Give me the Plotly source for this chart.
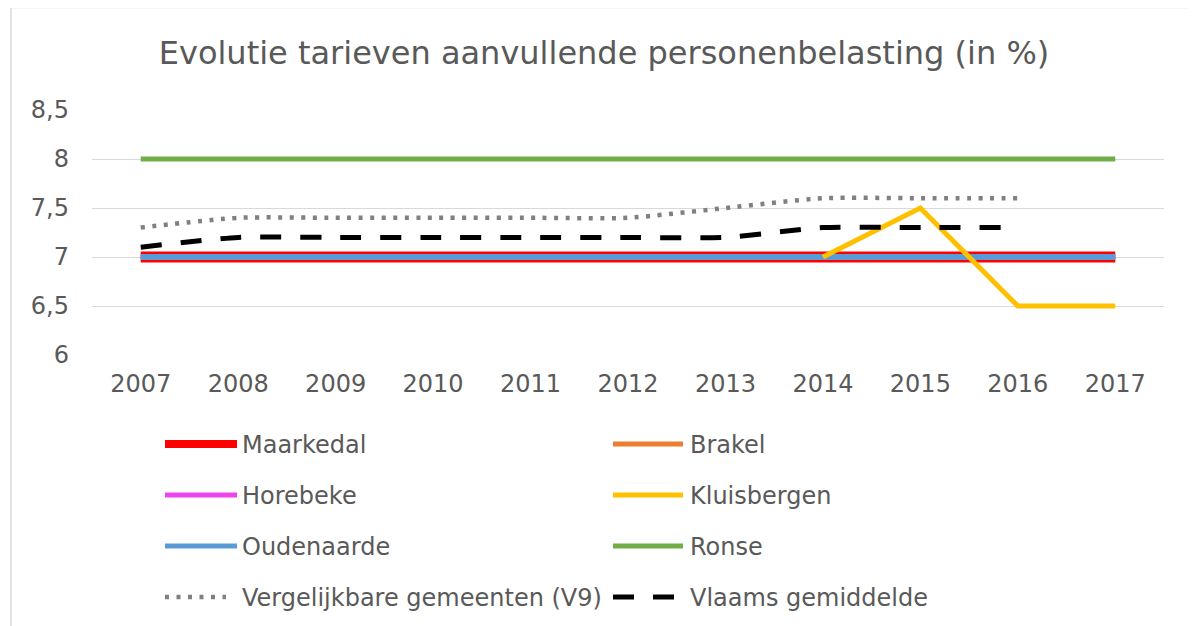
import plotly.graph_objects as go

years = ["2007", "2008", "2009", "2010", "2011", "2012", "2013", "2014", "2015", "2016", "2017"]
maarkedal = [7, 7, 7, 7, 7, 7, 7, 7, 7, 7, 7]
brakel = [7, 7, 7, 7, 7, 7, 7, 7, 7, 7, 7]
horebeke = [7, 7, 7, 7, 7, 7, 7, 7, 7, 7, 7]
kluisbergen = [None, None, None, None, None, None, None, 7, 7.5, 6.5, 6.5]
oudenaarde = [7, 7, 7, 7, 7, 7, 7, 7, 7, 7, 7]
ronse = [8, 8, 8, 8, 8, 8, 8, 8, 8, 8, 8]
v9 = [7.3, 7.4, 7.4, 7.4, 7.4, 7.4, 7.5, 7.6, 7.6, 7.6, None]
vlaams = [7.1, 7.2, 7.2, 7.2, 7.2, 7.2, 7.2, 7.3, 7.3, 7.3, None]
y_ticks = [6, 6.5, 7, 7.5, 8, 8.5]
y_tick_text = ["6", "6,5", "7", "7,5", "8", "8,5"]

FONT = "DejaVu Sans"
TXT = "#595959"

# page geometry: the figure sits at an 8px body offset in the page
OFF = 8
PAGE_W, PAGE_H = 1196, 626
W, H = PAGE_W - OFF, PAGE_H - OFF
# plot area in page pixels
PX0, PX1, PY0, PY1 = 92, 1164, 110, 355
L, R, T, B = PX0 - OFF, PAGE_W - PX1, PY0 - OFF, PAGE_H - PY1
PW, PH = W - L - R, H - T - B


def px(x):
    return (x - PX0) / PW


def py(y):
    return (PY1 - y) / PH


series = [
    # name, values, color, width, dash, shape
    ("Maarkedal", maarkedal, "#FF0000", 11, "solid", "linear"),
    ("Brakel", brakel, "#ED7D31", 5, "solid", "linear"),
    ("Horebeke", horebeke, "#EE44EE", 5, "solid", "linear"),
    ("Oudenaarde", oudenaarde, "#5B9BD5", 6, "solid", "linear"),
    ("Kluisbergen", kluisbergen, "#FFC000", 5, "solid", "linear"),
    ("Ronse", ronse, "#70AD47", 5, "solid", "linear"),
    ("Vergelijkbare gemeenten (V9)", v9, "#808080", 4.5, "4px,7.5px", "spline"),
    ("Vlaams gemiddelde", vlaams, "#000000", 5, "21px,19px", "spline"),
]

fig = go.Figure()
for name, vals, color, width, dash, shape in series:
    fig.add_trace(go.Scatter(
        x=years, y=vals, name=name, mode="lines",
        line=dict(color=color, width=width, dash=dash, shape=shape, smoothing=0.6),
        showlegend=False, hoverinfo="x+y+name",
    ))

# manual legend (Excel-style 2-column grid)
legend_order = [
    ("Maarkedal", 0, 0), ("Brakel", 1, 0),
    ("Horebeke", 0, 1), ("Kluisbergen", 1, 1),
    ("Oudenaarde", 0, 2), ("Ronse", 1, 2),
    ("Vergelijkbare gemeenten (V9)", 0, 3), ("Vlaams gemiddelde", 1, 3),
]
style = {s[0]: s for s in series}
shapes = []
annotations = []
col_x = [(165, 237, 242), (613, 683, 690)]
row_y = [444, 495, 546, 597]
for name, c, r in legend_order:
    _, _, color, width, dash, _ = style[name]
    x0, x1, xt = col_x[c]
    yy = row_y[r]
    lw = {"Maarkedal": 8, "Oudenaarde": 5}.get(name, 5)
    if name.startswith("Verg"):
        x1 = 226
        lw = 4.5
    if name.startswith("Vlaams"):
        x1 = 676
    shapes.append(dict(type="line", xref="paper", yref="paper",
                       x0=px(x0), x1=px(x1), y0=py(yy), y1=py(yy),
                       line=dict(color=color, width=lw, dash=dash)))
    annotations.append(dict(text=name, xref="paper", yref="paper", x=px(xt - 2), y=py(yy + 1),
                            xanchor="left", yanchor="middle", showarrow=False,
                            font=dict(family=FONT, size=24, color=TXT)))

# chart frame
shapes.append(dict(type="rect", xref="paper", yref="paper",
                   x0=px(11), x1=px(1210), y0=py(650), y1=py(7.5),
                   line=dict(color="#D9D9D9", width=1.5), layer="below"))

fig.update_layout(
    width=W, height=H,
    margin=dict(l=L, r=R, t=T, b=B),
    paper_bgcolor="white", plot_bgcolor="white",
    separators=", ",
    font=dict(family=FONT, color=TXT),
    title=dict(text="Evolutie tarieven aanvullende personenbelasting (in %)",
               x=px(604), xref="paper", xanchor="center",
               y=1 - (53 - OFF) / H, yref="container", yanchor="middle",
               font=dict(family=FONT, size=32, color=TXT)),
    showlegend=False,
    xaxis=dict(type="category", range=[-0.5, 10.5], showgrid=False, zeroline=False,
               showline=False, ticks="", tickfont=dict(family=FONT, size=24, color=TXT),
               ticklabelstandoff=12),
    yaxis=dict(range=[6, 8.5], tickvals=y_ticks, ticktext=y_tick_text,
               showgrid=True, gridcolor="#D9D9D9", gridwidth=1.3, zeroline=False,
               showline=False, ticks="", tickfont=dict(family=FONT, size=24, color=TXT),
               ticklabelstandoff=22),
    shapes=shapes, annotations=annotations,
)

fig.write_html("out.html")
